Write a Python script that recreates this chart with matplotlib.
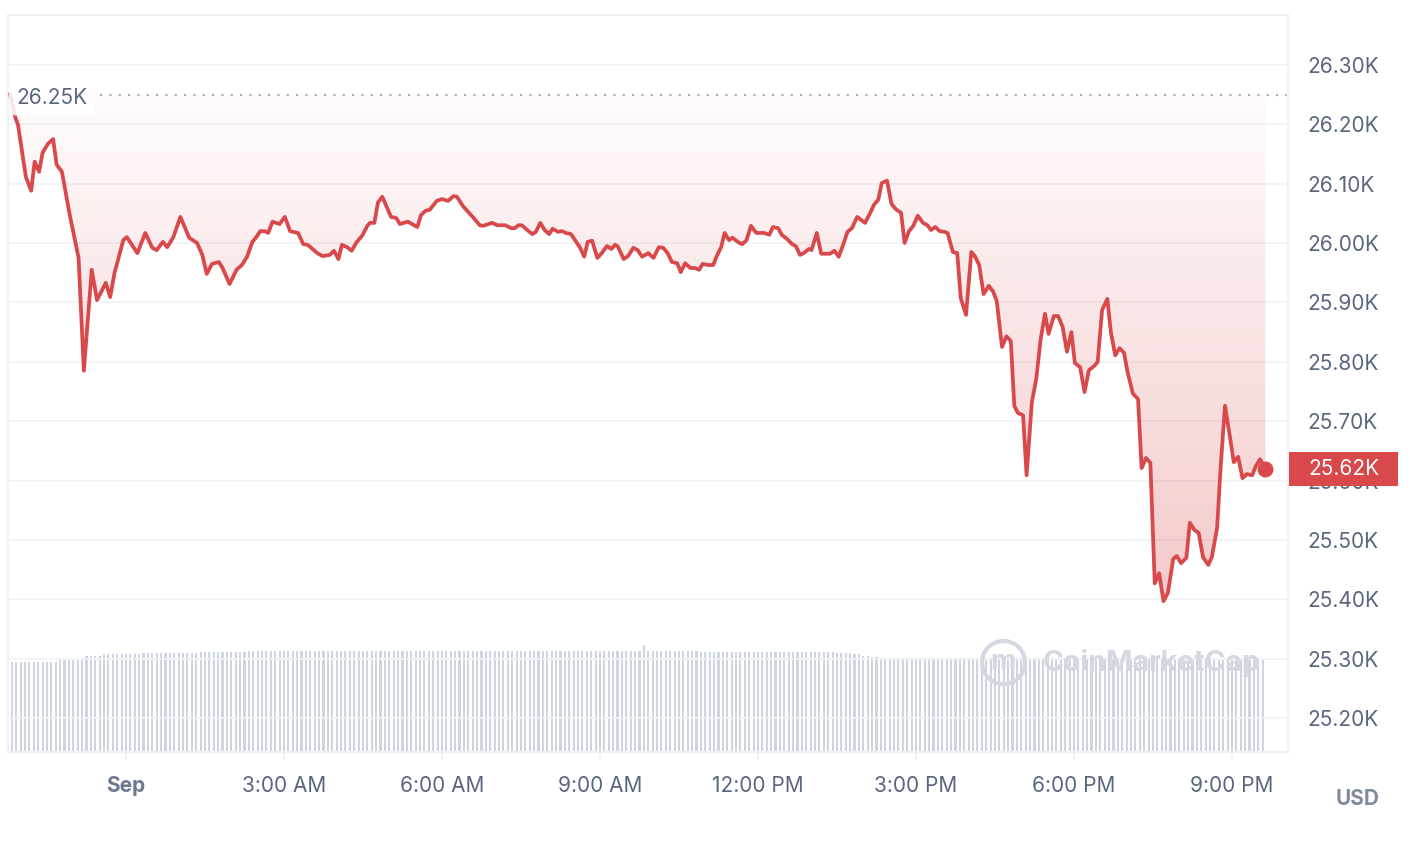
import numpy as np
import matplotlib.pyplot as plt
import matplotlib.transforms as mtransforms
from matplotlib.patches import Rectangle

plt.rcParams['font.family'] = ['Inter', 'DejaVu Sans']

# minutes from 00:00 Sep 1 (negative = Aug 31 evening), price in USD
times = [
    -132, -126, -123, -114, -108, -104, -99, -95, -89, -83, -79, -73, -64, -54, -48, -39, -33, -23, -18, -13,
    -3, 1, 13, 22, 30, 35, 42, 47, 54, 62, 72, 81, 87, 92, 98,
    106, 110, 118, 126, 132, 138, 144, 148, 153, 158, 162, 167, 175, 181, 187, 196, 202, 207, 218, 224,
    232, 237, 242, 246, 252, 257, 263, 269, 275, 278, 283, 287, 292, 297, 302, 308, 312, 321, 326, 332,
    336, 341, 346,
    354, 360, 367, 373, 377, 384, 395, 403, 407, 417, 423, 432, 439, 443, 447, 451, 457, 463, 467, 472,
    477, 482, 486, 492, 497, 501, 507, 512, 517, 522, 526, 531, 537, 542, 548, 553, 557, 560, 567, 572,
    578, 583, 588,
    595, 601, 607, 612, 617, 622, 628, 632, 637, 643, 648, 653, 657, 663, 669, 673, 678, 682, 687, 691,
    697, 702, 707, 712, 718, 722, 727, 733, 737, 743, 747, 753, 759, 763, 768, 772, 778, 781, 787, 792,
    796, 802, 807, 812, 817, 822, 827, 833,
    842, 848, 852, 857, 861, 867, 872, 877, 883, 887, 892, 897, 902, 908, 913, 917, 922, 927, 932, 936,
    942, 947, 951, 957, 963, 967, 972, 977, 983, 988, 992, 998, 1003, 1008, 1012, 1016, 1022, 1026, 1032, 1037,
    1042, 1047, 1051, 1057, 1062, 1067, 1072, 1077, 1081, 1087,
    1092, 1097, 1103, 1107, 1112, 1118, 1122, 1127, 1132, 1137, 1141, 1147, 1153, 1157, 1162, 1167, 1172, 1177,
    1182, 1187, 1193, 1197, 1202, 1208, 1212, 1217, 1222, 1227, 1233, 1237, 1243, 1247, 1252, 1257, 1262, 1267,
    1272, 1277, 1283, 1287, 1292, 1298,
]
prices = [
    26250, 26211, 26199, 26111, 26088, 26137, 26120, 26152, 26167, 26175, 26132, 26120, 26047, 25975, 25785,
    25955, 25904, 25933, 25909, 25950,
    26005, 26010, 25983, 26017, 25992, 25988, 26002, 25993, 26010, 26044, 26009, 26000, 25980, 25948, 25965,
    25968, 25958, 25931, 25955, 25963, 25977, 26002, 26009, 26020, 26020, 26017, 26036, 26032, 26044, 26020,
    26017, 25998, 25997, 25983, 25978,
    25980, 25987, 25973, 25997, 25993, 25987, 26002, 26012, 26029, 26034, 26034, 26068, 26078, 26061, 26044,
    26042, 26032, 26036, 26032, 26027,
    26047, 26054, 26056,
    26071, 26074, 26071, 26079, 26078, 26062, 26044, 26030, 26029, 26034, 26030, 26030, 26025, 26025, 26030,
    26030, 26022, 26015, 26019, 26034,
    26022, 26015, 26024, 26019, 26020, 26017, 26015, 26004, 25993, 25977, 26002, 26004, 25975, 25983, 25995,
    25990, 25997, 25995, 25973, 25978,
    25992, 25988, 25977,
    25983, 25975, 25993, 25992, 25983, 25968, 25966, 25951, 25966, 25958, 25958, 25955, 25965, 25963, 25963,
    25978, 25993, 26017, 26005, 26009,
    26002, 25998, 26005, 26029, 26017, 26017, 26017, 26014, 26027, 26025, 26014, 26007, 25998, 25995, 25980,
    25983, 25990, 25988, 26017, 25982,
    25982, 25982, 25987, 25977, 25997, 26019, 26025, 26044,
    26034, 26051, 26064, 26073, 26101, 26105, 26066, 26057, 26051, 26000, 26020, 26029, 26046, 26034, 26030,
    26022, 26027, 26020, 26019, 26017,
    25985, 25983, 25907, 25879, 25985, 25978, 25963, 25914, 25928, 25918, 25902, 25825, 25843, 25835, 25726,
    25714, 25710, 25609, 25732, 25771,
    25838, 25881, 25847, 25877, 25877, 25859, 25817, 25850, 25798, 25791,
    25749, 25786, 25793, 25800, 25887, 25906, 25850, 25811, 25823, 25815, 25783, 25747, 25737, 25621, 25638,
    25630, 25427, 25444,
    25397, 25411, 25468, 25473, 25461, 25470, 25529, 25517, 25512, 25471, 25458, 25471, 25520, 25621, 25726,
    25680, 25631, 25640,
    25604, 25611, 25609, 25624, 25636, 25619,
]

# volume bars, 5 min each, given as level + how many bars at that level
vol_start = -130
vol_levels = [9.0, 9.2, 9.6, 9.8, 9.9, 10.0, 10.1, 10.7, 10.1, 10.0, 9.9, 9.8, 9.6, 9.5, 9.4, 9.2]
vol_counts = [11, 6, 4, 9, 13, 11, 90, 1, 12, 31, 4, 2, 2, 2, 69, 19]

open_price = 26250
y_ticks = [25200, 25300, 25400, 25500, 25600, 25700, 25800, 25900, 26000, 26100, 26200, 26300]
x_ticks = [0, 180, 360, 540, 720, 900, 1080, 1260]
x_labels = ['Sep', '3:00 AM', '6:00 AM', '9:00 AM', '12:00 PM', '3:00 PM', '6:00 PM', '9:00 PM']

red = '#d9484b'
grey_txt = '#58667e'
light = '#eff2f5'
fs = 15

fig = plt.figure(figsize=(14.1, 8.42), dpi=100, facecolor='white')
rect = [8 / 1410, 90 / 842, 1280 / 1410, 737 / 842]
xlim = (-134.4, 1323.8)
ylim = (25143, 26384)

# volume behind the price
axv = fig.add_axes(rect)
vol = np.repeat(vol_levels, vol_counts)
vt = vol_start + 5 * np.arange(len(vol))
axv.bar(vt, vol, width=2.4, color='#cdd4e2', linewidth=0)
axv.set_xlim(xlim)
axv.set_ylim(0, 73.7)
axv.axis('off')

ax = fig.add_axes(rect, facecolor='none')
ax.set_xlim(xlim)
ax.set_ylim(ylim)

for s in ax.spines.values():
    s.set_color(light)
    s.set_linewidth(1.5)

ax.set_yticks(y_ticks)
ax.set_yticklabels([f'{v / 1000:.2f}K' for v in y_ticks])
ax.yaxis.tick_right()
ax.tick_params(axis='y', length=0, pad=14, labelsize=fs, labelcolor=grey_txt)
ax.grid(axis='y', color='#f0f2f5', linewidth=1.2)
ax.set_axisbelow(True)

ax.set_xticks(x_ticks)
ax.set_xticklabels(x_labels)
ax.tick_params(axis='x', length=6, width=1.5, color=light, pad=11, labelsize=fs, labelcolor=grey_txt)
ax.get_xticklabels()[0].set_fontweight('bold')
ax.get_xticklabels()[0].set_color('#6c7790')

# gradient fill between price and open
poly = ax.fill_between(times, prices, open_price, color='none', linewidth=0)
n = 256
grad = np.zeros((n, 1, 4))
grad[:, 0, 0] = 0.85
grad[:, 0, 1] = 0.28
grad[:, 0, 2] = 0.29
grad[:, 0, 3] = np.linspace(0.29, 0.02, n)
im = ax.imshow(grad, aspect='auto', origin='lower',
               extent=[times[0], times[-1], min(prices), open_price], zorder=1)
im.set_clip_path(poly.get_paths()[0], transform=ax.transData)
ax.set_xlim(xlim)
ax.set_ylim(ylim)

ax.axhline(open_price, xmin=92 / 1280, xmax=1, color='#a6b0c3', linewidth=1.6,
           linestyle=(0, (1, 3.2)), zorder=2)

ax.plot(times, prices, color=red, linewidth=2.7, solid_joinstyle='round', zorder=4)
ax.plot(times[-1], prices[-1], 'o', color=red, markersize=10.5, zorder=5)

ax.text(8 / 1280, open_price - 6, f'{open_price / 1000:.2f}K',
        transform=mtransforms.blended_transform_factory(ax.transAxes, ax.transData),
        ha='left', va='center', fontsize=fs, color=grey_txt, zorder=6,
        bbox=dict(boxstyle='round,pad=0.35', facecolor='white', edgecolor='none', alpha=0.85))

# last price badge on the right
blend = mtransforms.blended_transform_factory(fig.transFigure, ax.transData)
ax.add_patch(Rectangle((1289 / 1410, prices[-1] - 28), 109 / 1410, 57, transform=blend,
                       facecolor=red, edgecolor='none', clip_on=False, zorder=10))
ax.text(1308 / 1410, prices[-1], f'{prices[-1] / 1000:.2f}K', transform=blend, ha='left', va='center',
        fontsize=fs, color='white', zorder=11, clip_on=False)

# watermark
wm = '#d3d8e3'
fig.text(1003 / 1410, 1 - 662 / 842, 'm', ha='center', va='center', fontsize=20, fontweight='bold',
         color=wm, zorder=20)
fig.lines.append(plt.Line2D([1003 / 1410], [1 - 662 / 842], marker='o', markersize=31, markerfacecolor='none',
                            markeredgecolor=wm, markeredgewidth=3, transform=fig.transFigure, zorder=20))
fig.text(1043 / 1410, 1 - 663 / 842, 'CoinMarketCap', ha='left', va='center', fontsize=20.5, fontweight='bold',
         color=wm, zorder=20)

fig.text(1358 / 1410, 1 - 799 / 842, 'USD', ha='center', va='center', fontsize=15, fontweight='bold',
         color='#808a9d')

fig.savefig('out.png', dpi=100, facecolor='white')
